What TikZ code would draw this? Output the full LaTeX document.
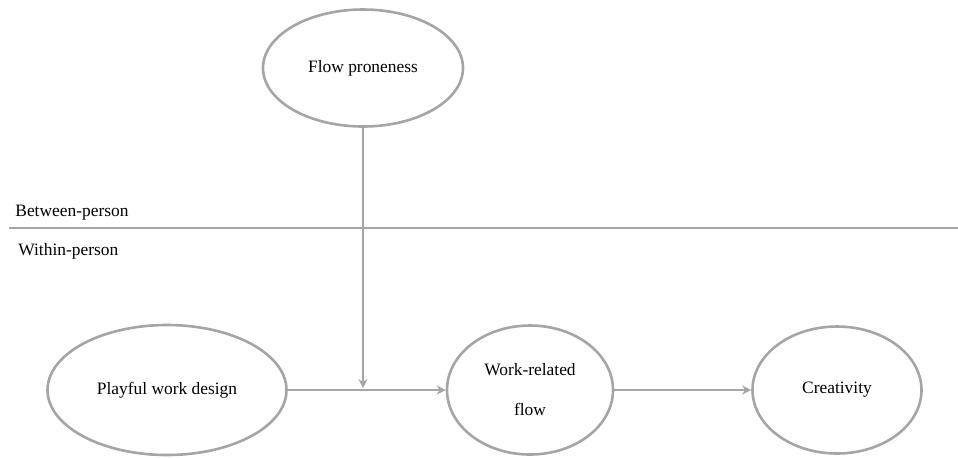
\documentclass[tikz,border=0pt]{standalone}
\usepackage{fontspec}
\setmainfont{Liberation Serif}
\usetikzlibrary{shapes.geometric,arrows.meta}
\definecolor{linegray}{RGB}{165,165,165}

\begin{document}
\begin{tikzpicture}[>={Stealth[length=4.5pt,width=4.5pt]},
    x=0.5pt, y=-0.5pt,
    construct/.style={ellipse, draw=linegray, line width=1.3pt, inner sep=0pt,
      font=\fontsize{8.7}{10.4}\selectfont, align=center},
    link/.style={->, draw=linegray, line width=1.3pt},
    level/.style={anchor=west, inner sep=0pt, font=\fontsize{8.7}{10.4}\selectfont}
    ]
    \useasboundingbox (0,0) rectangle (958,457);

    % constructs
    \node[construct, minimum width=100pt, minimum height=58.5pt] (flowprone) at (363,68) {Flow proneness};
    \node[construct, minimum width=119.5pt, minimum height=65pt] (playful) at (167,390) {Playful work design};
    \node[construct, minimum width=83pt, minimum height=64.5pt] (workflow) at (530,390) {Work-related\\[9.6pt]flow};
    \node[construct, minimum width=84.5pt, minimum height=63.5pt] (creativity) at (837,390) {Creativity};

    % levels
    \coordinate (divleft) at (9,228);
    \coordinate (divright) at (958,228);
    \draw[linegray, line width=1.3pt] (divleft) -- (divright);
    \node[level] (between) at (15,213) {Between-person};
    \node[level] (within) at (18,251) {Within-person};

    % paths
    \coordinate (moderation) at (363,390);
    \draw[link] (playful) -- (workflow);
    \draw[link] (workflow) -- (creativity);
    \draw[link, shorten >=1pt] (flowprone) -- (moderation);
\end{tikzpicture}
\end{document}
